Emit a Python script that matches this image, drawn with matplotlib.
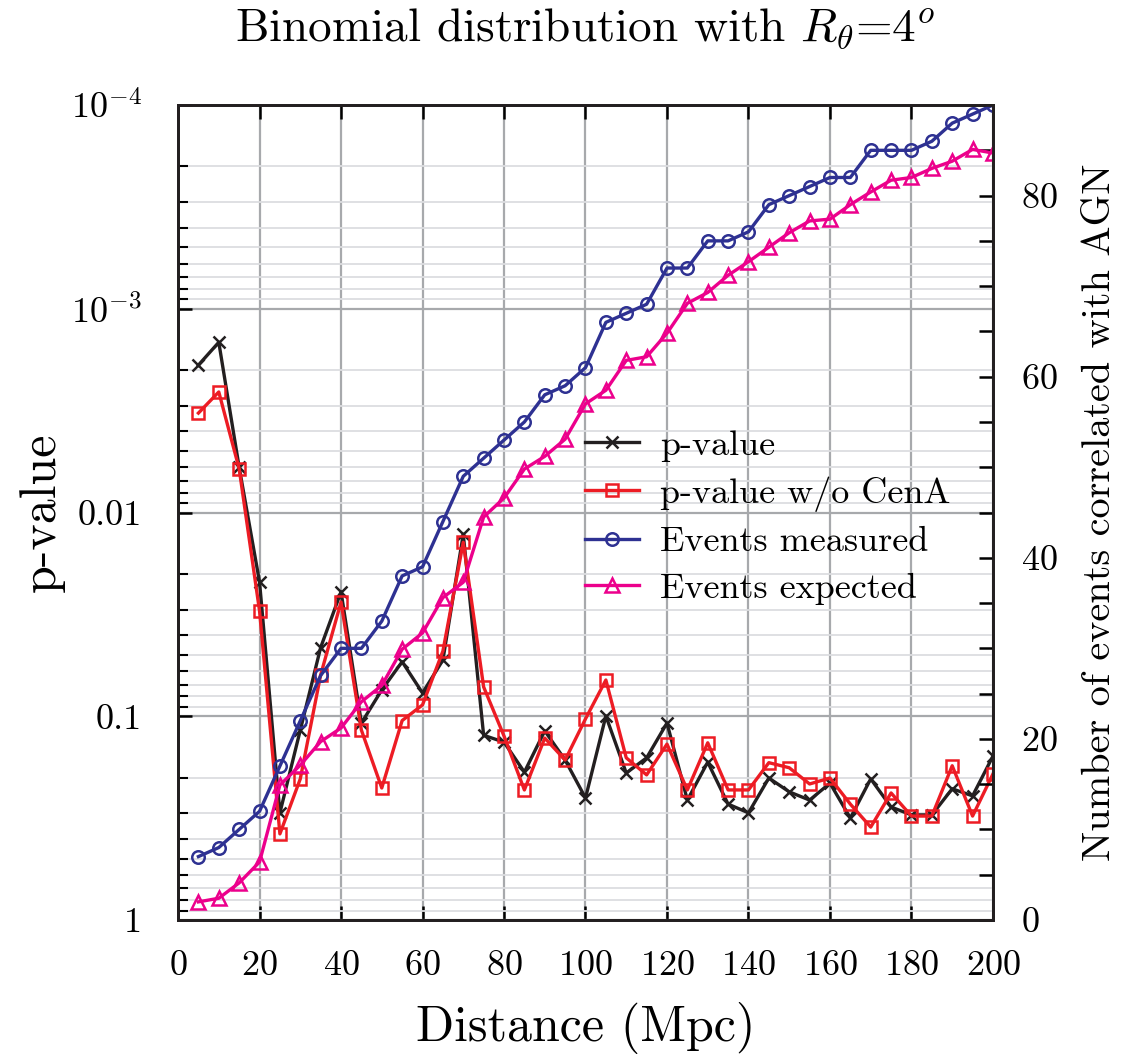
import numpy as np
import matplotlib
matplotlib.use("Agg")
import matplotlib.pyplot as plt
from matplotlib.ticker import LogLocator, MultipleLocator, NullFormatter

plt.rcParams['font.family'] = 'serif'
plt.rcParams['font.serif'] = ['cmr10']
plt.rcParams['mathtext.fontset'] = 'cm'
plt.rcParams['axes.formatter.use_mathtext'] = True

# distance bins (Mpc)
dist = np.arange(5, 201, 5)

# p-value (all events)
pval = [1.89e-3, 1.46e-3, 6.0e-3, 0.0219, 0.298, 0.117, 0.046, 0.0245, 0.108, 0.0743,
        0.054, 0.0769, 0.053, 0.0128, 0.124, 0.134, 0.188, 0.118, 0.164, 0.252,
        0.0997, 0.19, 0.16, 0.108, 0.258, 0.168, 0.27, 0.298, 0.201, 0.235,
        0.258, 0.213, 0.316, 0.203, 0.279, 0.305, 0.305, 0.227, 0.246, 0.157]

# p-value without Cen A
pval_nocena = [3.25e-3, 2.56e-3, 6.1e-3, 0.0304, 0.378, 0.203, 0.0627, 0.0275, 0.117, 0.225,
               0.105, 0.088, 0.0479, 0.014, 0.0718, 0.125, 0.23, 0.128, 0.164, 0.103,
               0.0664, 0.16, 0.194, 0.137, 0.23, 0.135, 0.23, 0.23, 0.169, 0.179,
               0.215, 0.201, 0.27, 0.35, 0.238, 0.309, 0.309, 0.175, 0.309, 0.192]

# number of correlated events
ev_measured = [7, 8, 10, 12, 17, 22, 27, 30, 30, 33,
               38, 39, 44, 49, 51, 53, 55, 58, 59, 61,
               66, 67, 68, 72, 72, 75, 75, 76, 79, 80,
               81, 82, 82, 85, 85, 85, 86, 88, 89, 90]
ev_expected = [2.0, 2.4, 4.1, 6.4, 14.9, 17.1, 19.7, 21.2, 24.1, 25.9,
               29.9, 31.7, 35.6, 37.3, 44.5, 46.6, 49.8, 51.2, 53.1, 57.0,
               58.5, 61.8, 62.2, 64.8, 68.1, 69.3, 71.2, 72.7, 74.3, 75.9,
               77.2, 77.4, 79.0, 80.4, 81.7, 82.0, 83.0, 83.8, 85.1, 84.7]

fig = plt.figure(figsize=(11.29, 10.6), dpi=100)
ax = fig.add_axes([0.1577, 0.1321, 0.7218, 0.7688])

lw = 2.4
l1, = ax.plot(dist, pval, color="#231f20", lw=lw, marker="x", ms=8, mew=1.8,
              label="p-value")
l2, = ax.plot(dist, pval_nocena, color="#ed1c24", lw=lw, marker="s", ms=8, mew=1.8,
              mfc="none", label="p-value w/o CenA")
ax.set_yscale("log")
ax.set_ylim(1, 1e-4)
ax.set_xlim(0, 200)
ax.set_yticks([1, 0.1, 0.01, 1e-3, 1e-4])
ax.set_yticklabels(["1", "0.1", "0.01", r"$10^{-3}$", r"$10^{-4}$"])
ax.yaxis.set_minor_locator(LogLocator(base=10, subs=np.arange(2, 10), numticks=20))
ax.yaxis.set_minor_formatter(NullFormatter())
ax.set_xticks(np.arange(0, 201, 20))
ax.grid(which="major", color="#a7a9ac", lw=1.6)
ax.grid(which="minor", axis="y", color="#dcdde0", lw=1.3)
ax.set_axisbelow(True)
ax.tick_params(axis="x", which="major", direction="in", length=10, width=1.8,
               labelsize=26, top=True, pad=22)
ax.tick_params(axis="y", which="major", direction="in", length=10, width=1.8,
               labelsize=26, pad=26)
ax.tick_params(axis="y", which="minor", direction="in", length=7, width=1.5)
ax.set_xlabel("Distance (Mpc)", fontsize=36, labelpad=14)
ax.set_ylabel("p-value", fontsize=36, labelpad=4)
ax.set_title(r"Binomial distribution with $R_\theta$=4$^o$", fontsize=34, pad=46)

ax2 = ax.twinx()
l3, = ax2.plot(dist, ev_measured, color="#2e3192", lw=lw, marker="o", ms=9, mew=1.8,
               mfc="none", label="Events measured")
l4, = ax2.plot(dist, ev_expected, color="#ec008c", lw=lw, marker="^", ms=10, mew=1.8,
               mfc="none", label="Events expected")
ax2.set_ylim(0, 90)
ax2.set_yticks(np.arange(0, 81, 20))
ax2.yaxis.set_minor_locator(MultipleLocator(5))
ax2.tick_params(axis="y", which="major", direction="in", length=10, width=1.8,
                labelsize=26, pad=20)
ax2.tick_params(axis="y", which="minor", direction="in", length=10, width=1.8)
ax2.set_ylabel("Number of events correlated with AGN", fontsize=29, labelpad=18)

for a in (ax, ax2):
    for s in a.spines.values():
        s.set_linewidth(2)
        s.set_color("#231f20")

ax2.legend(handles=[l1, l2, l3, l4], loc="upper left", bbox_to_anchor=(0.459, 0.642),
           frameon=False, fontsize=26, handlelength=1.5, labelspacing=0.4,
           handletextpad=0.6)

fig.savefig("out.png", dpi=100)
